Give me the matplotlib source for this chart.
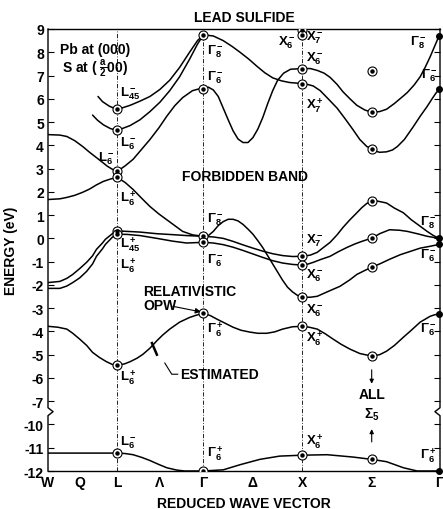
import numpy as np
import matplotlib.pyplot as plt

plt.rcParams['font.family'] = 'Liberation Sans'
plt.rcParams['font.weight'] = 'bold'
plt.rcParams['axes.titleweight'] = 'bold'
plt.rcParams['axes.labelweight'] = 'bold'
plt.rcParams['mathtext.fontset'] = 'custom'
plt.rcParams['mathtext.rm'] = 'Liberation Sans:bold'
plt.rcParams['mathtext.bf'] = 'Liberation Sans:bold'
plt.rcParams['mathtext.it'] = 'Liberation Sans:bold'
plt.rcParams['mathtext.default'] = 'rm'
plt.rcParams['axes.unicode_minus'] = False

# symmetry points along the reduced wave vector
K_W, K_L, K_G, K_X, K_S, K_G2 = 0.0, 0.70, 1.57, 2.57, 3.27, 3.95
tick_k = [0.0, 0.32, 0.70, 1.13, 1.57, 2.07, 2.57, 3.27, 3.95]
tick_names = ['W', 'Q', 'L', 'Λ', 'Γ', 'Δ', 'X', 'Σ', 'Γ']

# energy ticks (eV); the axis is broken between -7 and -10
energy_ticks = [9, 8, 7, 6, 5, 4, 3, 2, 1, 0, -1, -2, -3, -4, -5, -6, -7, -10, -11, -12]

# ---- conduction bands ----
cb1_k = [0.505, 0.55, 0.62, 0.70, 0.83, 0.93, 1.03, 1.13, 1.23, 1.33, 1.43, 1.51, 1.57]
cb1_e = [6.10, 5.88, 5.68, 5.54, 5.72, 5.90, 6.10, 6.40, 6.80, 7.35, 8.00, 8.50, 8.75]

cb2_k = [0.45, 0.50, 0.56, 0.63, 0.70, 0.83, 0.93, 1.03, 1.13, 1.23, 1.33, 1.43, 1.51, 1.57]
cb2_e = [5.30, 5.08, 4.88, 4.72, 4.64, 4.85, 5.10, 5.45, 5.85, 6.35, 6.95, 7.70, 8.35, 8.75]

cb3_k = [0.0, 0.12, 0.19, 0.27, 0.35, 0.42, 0.49, 0.55, 0.60, 0.65, 0.70,
         0.78, 0.86, 0.94, 1.03, 1.12, 1.20, 1.28, 1.36, 1.46, 1.52, 1.57]
cb3_e = [4.46, 4.44, 4.38, 4.20, 3.95, 3.70, 3.47, 3.27, 3.10, 2.97, 2.88,
         3.12, 3.40, 3.80, 4.25, 4.75, 5.25, 5.70, 6.05, 6.35, 6.42, 6.44]

cb4_k = [0.0, 0.12, 0.19, 0.27, 0.35, 0.42, 0.49, 0.56, 0.63, 0.70,
         0.78, 0.86, 0.94, 1.03, 1.12, 1.20, 1.28, 1.36, 1.46, 1.57]
cb4_e = [1.67, 1.70, 1.76, 1.85, 1.98, 2.12, 2.30, 2.45, 2.55, 2.62,
         2.40, 2.10, 1.75, 1.37, 1.05, 0.80, 0.55, 0.30, 0.15, 0.09]

cb5_k = [1.57, 1.67, 1.77, 1.86, 1.94, 2.03, 2.11, 2.19, 2.27, 2.36, 2.44, 2.52, 2.57,
         2.62, 2.68, 2.75, 2.83, 2.92, 3.00, 3.08, 3.15, 3.22, 3.27,
         3.31, 3.35, 3.42, 3.48, 3.53, 3.60, 3.69, 3.76, 3.83, 3.88, 3.92, 3.95]
cb5_e = [8.75, 8.70, 8.50, 8.25, 8.00, 7.70, 7.40, 7.12, 6.90, 6.77, 6.70, 6.67, 6.65,
         6.62, 6.55, 6.35, 6.00, 5.60, 5.15, 4.68, 4.25, 3.95, 3.85,
         3.75, 3.70, 3.72, 3.80, 3.95, 4.25, 4.80, 5.25, 5.67, 6.00, 6.25, 6.40]

cb6_k = [1.57, 1.62, 1.67, 1.72, 1.77, 1.82, 1.87, 1.92, 1.97, 2.02, 2.07, 2.12, 2.17,
         2.22, 2.27, 2.32, 2.38, 2.45, 2.57, 2.65, 2.72, 2.79, 2.85, 2.92, 2.98, 3.05,
         3.12, 3.20, 3.27, 3.35, 3.42, 3.50, 3.57, 3.63, 3.70, 3.76, 3.81, 3.86, 3.90, 3.95]
cb6_e = [6.44, 6.50, 6.38, 6.10, 5.60, 5.10, 4.62, 4.27, 4.12, 4.12, 4.33, 4.70, 5.20,
         5.80, 6.35, 6.80, 7.10, 7.27, 7.30, 7.30, 7.22, 7.10, 6.92, 6.62, 6.30, 6.00,
         5.72, 5.52, 5.42, 5.45, 5.55, 5.80, 6.05, 6.27, 6.60, 6.95, 7.35, 7.80, 8.20, 8.70]

# ---- valence bands ----
vbw_k = [0.0, 0.12, 0.19, 0.25, 0.32, 0.39, 0.45, 0.49, 0.55, 0.58, 0.65, 0.70]
vb1_e = [-1.90, -1.85, -1.72, -1.55, -1.30, -1.03, -0.75, -0.47, -0.20, -0.04, 0.20, 0.32]
vb2_e = [-2.15, -2.15, -2.05, -1.90, -1.70, -1.42, -1.10, -0.77, -0.45, -0.26, 0.05, 0.18]

vbl_k = [0.70, 0.80, 0.93, 1.10, 1.26, 1.40, 1.57]
vb3_e = [0.32, 0.30, 0.27, 0.20, 0.16, 0.12, 0.09]
vb4_e = [0.18, 0.17, 0.12, 0.00, -0.12, -0.20, -0.17]

vb5_k = [1.57, 1.62, 1.67, 1.72, 1.77, 1.82, 1.87, 1.92, 1.97, 2.02, 2.07,
         2.12, 2.17, 2.22, 2.27, 2.32, 2.37, 2.42, 2.47, 2.52, 2.57]
vb5_e = [0.09, 0.12, 0.30, 0.55, 0.72, 0.82, 0.82, 0.75, 0.60, 0.40, 0.18,
         -0.10, -0.40, -0.75, -1.10, -1.45, -1.80, -2.10, -2.30, -2.45, -2.53]

vbd_k = [1.57, 1.67, 1.77, 1.87, 1.97, 2.07, 2.17, 2.27, 2.37, 2.47, 2.57]
vb6_e = [0.09, 0.06, 0.00, -0.13, -0.28, -0.42, -0.55, -0.66, -0.74, -0.78, -0.77]
vb7_e = [-0.17, -0.20, -0.27, -0.38, -0.52, -0.67, -0.82, -0.96, -1.06, -1.12, -1.15]

vb8_k = [2.57, 2.65, 2.72, 2.78, 2.85, 2.92, 2.98, 3.05, 3.12, 3.17, 3.22,
         3.27, 3.33, 3.42, 3.50, 3.59, 3.67, 3.76, 3.83, 3.89, 3.95]
vb8_e = [-0.77, -0.72, -0.60, -0.40, -0.17, 0.15, 0.47, 0.80, 1.10, 1.32, 1.50,
         1.60, 1.60, 1.52, 1.30, 1.10, 0.80, 0.52, 0.30, 0.13, 0.00]

vb9_k = [2.57, 2.63, 2.68, 2.76, 2.85, 2.93, 3.02, 3.10, 3.17, 3.22,
         3.27, 3.35, 3.45, 3.55, 3.63, 3.73, 3.83, 3.95]
vb9_e = [-1.15, -1.10, -1.03, -0.90, -0.77, -0.58, -0.39, -0.24, -0.13, -0.06,
         0.00, 0.20, 0.37, 0.35, 0.30, 0.20, 0.09, 0.00]

vb10_k = [2.57, 2.65, 2.72, 2.82, 2.95, 3.05, 3.12, 3.20, 3.27,
          3.35, 3.45, 3.56, 3.66, 3.76, 3.86, 3.95]
vb10_e = [-2.53, -2.53, -2.49, -2.30, -2.06, -1.78, -1.55, -1.38, -1.24,
          -1.10, -0.90, -0.70, -0.56, -0.42, -0.34, -0.26]

vb11_k = [0.0, 0.10, 0.19, 0.25, 0.32, 0.39, 0.45, 0.52, 0.59, 0.65,
          0.70, 0.77, 0.83, 0.90, 0.96, 1.03, 1.10, 1.16, 1.23, 1.33,
          1.43, 1.50, 1.57, 1.64, 1.71, 1.79, 1.87, 1.95, 2.04, 2.12,
          2.21, 2.29, 2.37, 2.47, 2.57, 2.64, 2.72, 2.80, 2.88, 2.96,
          3.05, 3.15, 3.27, 3.35, 3.42, 3.50, 3.59, 3.67, 3.76, 3.86, 3.91, 3.95]
vb11_e = [-3.78, -3.82, -3.90, -4.08, -4.33, -4.60, -4.90, -5.12, -5.30, -5.42,
          -5.45, -5.40, -5.30, -5.15, -4.98, -4.72, -4.40, -4.15, -3.90, -3.60,
          -3.40, -3.30, -3.22, -3.32, -3.48, -3.65, -3.82, -3.95, -4.03, -4.08,
          -4.08, -4.02, -3.90, -3.80, -3.78, -3.82, -3.90, -4.10, -4.33, -4.55,
          -4.76, -4.95, -5.06, -5.00, -4.85, -4.60, -4.25, -3.95, -3.60, -3.35, -3.28, -3.26]

# deep (sulfur 3s) band
vb12_k = [0.0, 0.35, 0.70, 0.78, 0.86, 0.95, 1.03, 1.12, 1.20, 1.30, 1.38, 1.57,
          1.77, 1.94, 2.14, 2.34, 2.57, 2.82, 3.08, 3.27, 3.42, 3.59, 3.73, 3.95]
vb12_e = [-11.23, -11.23, -11.23, -11.25, -11.30, -11.42, -11.55, -11.72, -11.86, -11.96, -12.00, -12.00,
          -11.95, -11.73, -11.50, -11.36, -11.32, -11.30, -11.40, -11.50, -11.60, -11.86, -12.00, -12.00]

# calculated states at symmetry points
dots_L = [5.54, 4.64, 2.88, 2.62, 0.32, 0.18, -5.45, -11.23]
dots_G = [8.75, 6.44, 0.09, -0.17, -3.22, -12.0]
dots_X = [8.95, 8.75, 7.30, 6.65, -0.77, -1.15, -2.53, -3.78, -11.32]
dots_S = [7.20, 5.42, 3.85, 1.60, 0.00, -1.24, -5.06, -11.50]
dots_G2 = [8.70, 6.40, 0.00, -0.26, -3.26, -12.0]


def on_axis(e):
    # energies below the break are moved up by 2 eV
    e = np.asarray(e, dtype=float)
    return np.where(e < -8.5, e + 2.0, e)


fig = plt.figure(figsize=(4.43, 5.10), dpi=100)
ax = fig.add_axes([48 / 443, 1 - 472 / 510, 392 / 443, 442 / 510])

curves = [(cb1_k, cb1_e), (cb2_k, cb2_e), (cb3_k, cb3_e), (cb4_k, cb4_e),
          (cb5_k, cb5_e), (cb6_k, cb6_e),
          (vbw_k, vb1_e), (vbw_k, vb2_e), (vbl_k, vb3_e), (vbl_k, vb4_e),
          (vb5_k, vb5_e), (vbd_k, vb6_e), (vbd_k, vb7_e),
          (vb8_k, vb8_e), (vb9_k, vb9_e), (vb10_k, vb10_e),
          (vb11_k, vb11_e), (vb12_k, vb12_e)]
for k, e in curves:
    ax.plot(k, on_axis(e), color='black', lw=1.1, solid_capstyle='round', zorder=3)

# symmetry lines
for kk in [K_L, K_G, K_X]:
    ax.axvline(kk, color='black', lw=0.6, linestyle=(0, (5, 2, 1, 2)), zorder=1)

# circled dots
for kk, ee in [(K_L, dots_L), (K_G, dots_G), (K_X, dots_X), (K_S, dots_S)]:
    kx = np.full(len(ee), kk)
    ax.plot(kx, on_axis(ee), 'o', ms=6.5, mfc='white', mec='black', mew=0.8, zorder=4)
    ax.plot(kx, on_axis(ee), 'o', ms=2.2, color='black', zorder=5)
ax.plot(np.full(len(dots_G2), K_G2), on_axis(dots_G2), 'o', ms=4, color='black',
        clip_on=False, zorder=5)

# axes
ax.set_xlim(0, 3.96)
ax.set_ylim(-10.0, 9.0)
ax.set_yticks(on_axis(energy_ticks))
ax.set_yticklabels([str(t) for t in energy_ticks], fontsize=10)
ax.set_xticks(tick_k)
ax.set_xticklabels(tick_names, fontsize=10)
ax.tick_params(axis='y', direction='in', left=True, right=True, length=4, width=0.8, pad=3)
ax.tick_params(axis='x', length=0, pad=3)

ax.spines['left'].set_visible(False)
ax.spines['right'].set_visible(False)
for s in ['top', 'bottom']:
    ax.spines[s].set_linewidth(1.0)
tr = ax.get_yaxis_transform()
ax.plot([0, 0, 0.013, 0, 0], [9.0, -7.28, -7.45, -7.62, -10.0], color='black', lw=1.0,
        transform=tr, clip_on=False)
ax.plot([1, 1, 0.987, 1, 1], [9.0, -7.28, -7.45, -7.62, -10.0], color='black', lw=1.0,
        transform=tr, clip_on=False)

ax.set_ylabel('ENERGY (eV)', fontsize=10, labelpad=4)
ax.set_xlabel('REDUCED WAVE VECTOR', fontsize=10, labelpad=5)
ax.set_title('LEAD SULFIDE', fontsize=10, pad=6)

# state labels
fs = 9.5
lab = dict(fontsize=fs, va='center')
ax.text(0.73, 6.27, r'$L_{45}^-$', ha='left', **lab)
ax.text(0.73, 4.10, r'$L_6^-$', ha='left', **lab)
ax.text(0.68, 3.47, r'$L_6^-$', ha='right', **lab)
ax.text(0.73, 1.76, r'$L_6^+$', ha='left', **lab)
ax.text(0.73, -0.22, r'$L_{45}^+$', ha='left', **lab)
ax.text(0.73, -1.12, r'$L_6^+$', ha='left', **lab)
ax.text(0.73, -5.96, r'$L_6^+$', ha='left', **lab)
ax.text(0.73, -8.75, r'$L_6^-$', ha='left', **lab)

ax.text(1.61, 8.05, r'$\Gamma_8^-$', ha='left', **lab)
ax.text(1.61, 6.95, r'$\Gamma_6^-$', ha='left', **lab)
ax.text(1.61, 0.86, r'$\Gamma_8^-$', ha='left', **lab)
ax.text(1.61, -0.90, r'$\Gamma_6^-$', ha='left', **lab)
ax.text(1.61, -3.90, r'$\Gamma_6^+$', ha='left', **lab)
ax.text(1.61, -9.20, r'$\Gamma_6^+$', ha='left', **lab)

ax.text(2.50, 8.45, r'$X_6^-$', ha='right', **lab)
ax.text(2.61, 8.67, r'$X_7^-$', ha='left', **lab)
ax.text(2.61, 7.77, r'$X_6^-$', ha='left', **lab)
ax.text(2.61, 5.75, r'$X_7^+$', ha='left', **lab)
ax.text(2.61, -0.04, r'$X_7^-$', ha='left', **lab)
ax.text(2.61, -1.55, r'$X_6^-$', ha='left', **lab)
ax.text(2.61, -3.05, r'$X_6^-$', ha='left', **lab)
ax.text(2.61, -4.25, r'$X_6^+$', ha='left', **lab)
ax.text(2.61, -8.70, r'$X_6^+$', ha='left', **lab)

ax.text(3.83, 8.45, r'$\Gamma_8^-$', ha='right', **lab)
ax.text(3.94, 7.04, r'$\Gamma_6^-$', ha='right', **lab)
ax.text(3.93, 0.73, r'$\Gamma_8^-$', ha='right', **lab)
ax.text(3.93, -0.70, r'$\Gamma_6^-$', ha='right', **lab)
ax.text(3.93, -3.90, r'$\Gamma_6^-$', ha='right', **lab)
ax.text(3.93, -9.30, r'$\Gamma_6^+$', ha='right', **lab)

# notes
fn = 10
ax.text(0.12, 8.15, 'Pb at (000)', fontsize=fn, ha='left', va='center')
ax.text(0.14, 7.34, r'S at ( $\frac{a}{2}$00)', fontsize=fn, ha='left', va='center')
ax.text(1.995, 2.66, 'FORBIDDEN BAND', fontsize=fn, ha='center', va='center')
ax.text(0.96, -2.27, 'RELATIVISTIC', fontsize=fn, ha='left', va='center')
ax.text(0.96, -2.88, 'OPW', fontsize=fn, ha='left', va='center')
ax.annotate('', xy=(1.545, -3.16), xytext=(1.26, -2.92),
            arrowprops=dict(arrowstyle='-|>', lw=0.8, color='black', mutation_scale=8,
                            shrinkA=0, shrinkB=0))
ax.text(1.33, -5.84, 'ESTIMATED', fontsize=fn, ha='left', va='center')
ax.plot([1.18, 1.25, 1.31], [-5.36, -5.84, -5.84], color='black', lw=0.8)
ax.plot([1.05, 1.10], [-4.50, -5.00], color='black', lw=1.8)
ax.text(K_S, -6.70, 'ALL', fontsize=fn, ha='center', va='center')
ax.text(K_S, -7.55, r'$\Sigma_5$', fontsize=fn, ha='center', va='center')
ax.annotate('', xy=(K_S, -6.25), xytext=(K_S, -5.65),
            arrowprops=dict(arrowstyle='-|>', lw=0.8, color='black', mutation_scale=6,
                            shrinkA=0, shrinkB=0))
ax.annotate('', xy=(K_S, -8.20), xytext=(K_S, -8.75),
            arrowprops=dict(arrowstyle='-|>', lw=0.8, color='black', mutation_scale=6,
                            shrinkA=0, shrinkB=0))

fig.savefig('out.png', dpi=100)
